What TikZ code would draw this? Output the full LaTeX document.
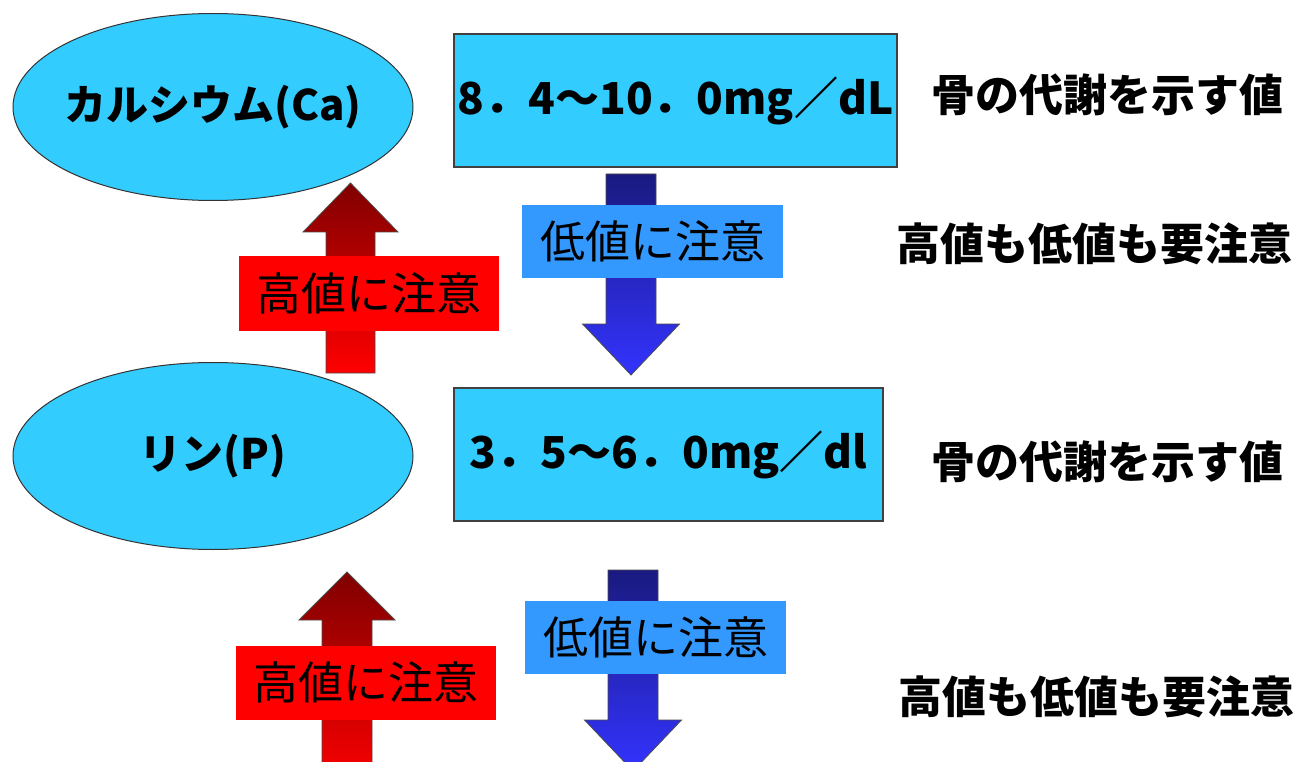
\documentclass[tikz,border=0pt]{standalone}
\usepackage{fontspec}
\newfontfamily\jp{Noto Sans CJK JP}
\usetikzlibrary{shapes.geometric,calc}
\definecolor{cyanfill}{RGB}{51,204,255}
\definecolor{lblblue}{RGB}{51,153,255}
\definecolor{navyblue}{RGB}{26,26,128}
\definecolor{brightblue}{RGB}{51,51,255}
\definecolor{darkred}{RGB}{128,0,0}
\definecolor{purered}{RGB}{255,0,0}
\begin{document}
\begin{tikzpicture}[x=1pt,y=-1pt,
  every node/.style={font=\jp\bfseries\fontsize{44}{52}\selectfont, text=black, inner sep=0},
  elem/.style={ellipse, draw=black!80, line width=1pt, fill=cyanfill,
    minimum width=400, minimum height=187, inner xsep=-60pt, inner ysep=0pt,
    font=\jp\bfseries\fontsize{42}{50}\selectfont},
  valbox/.style={rectangle, draw=black!75, line width=1.2pt, fill=cyanfill},
  lowlbl/.style={rectangle, fill=lblblue, minimum width=261, minimum height=73,
    font=\jp\fontsize{45}{52}\selectfont},
  highlbl/.style={rectangle, fill=purered, minimum width=260, minimum height=74,
    font=\jp\fontsize{45}{52}\selectfont},
  note/.style={rectangle},
  downarr/.style={draw=black!70, line width=0.8pt, top color=navyblue, bottom color=brightblue},
  uparr/.style={draw=black!70, line width=0.8pt, top color=darkred, bottom color=purered}]
\useasboundingbox (0,0) rectangle (1296,762);
\clip (0,0) rectangle (1296,762);
\fill[white] (0,0) rectangle (1296,762);

% main nodes
\node[elem] (ca) at (213,107) {カルシウム(Ca)};
\node[elem] (p) at (213,456) {リン(P)};
\node[valbox, minimum width=443, minimum height=133] (r1) at (675.5,100.5) {8．4～10．0mg／dL};
\node[valbox, minimum width=429, minimum height=133] (r2) at (668.5,454.5) {3．5～6．0mg／dl};

% side notes
\node[note] (n1) at (1107,95) {骨の代謝を示す値};
\node[note] (n2) at (1094,244) {高値も低値も要注意};
\node[note] (n3) at (1107,462) {骨の代謝を示す値};
\node[note] (n4) at (1096,697) {高値も低値も要注意};

% arrow anchor coordinates
\coordinate (d1top) at (631,174);
\coordinate (d1tip) at (631,375);
\coordinate (d2top) at (633,570);
\coordinate (d2tip) at (633,771);
\coordinate (u1tip) at (350.5,183);
\coordinate (u1bot) at (350.5,373);
\coordinate (u2tip) at (347,572);
\coordinate (u2bot) at (347,790);

% down arrows (low values)
\path[downarr] ($(d1top)+(-25,0)$) -- ($(d1top)+(25,0)$) -- ($(d1tip)+(25,-51)$)
  -- ($(d1tip)+(48.5,-51)$) -- (d1tip) -- ($(d1tip)+(-48.5,-51)$) -- ($(d1tip)+(-25,-51)$) -- cycle;
\path[downarr] ($(d2top)+(-25,0)$) -- ($(d2top)+(25,0)$) -- ($(d2tip)+(25,-51)$)
  -- ($(d2tip)+(48.5,-51)$) -- (d2tip) -- ($(d2tip)+(-48.5,-51)$) -- ($(d2tip)+(-25,-51)$) -- cycle;

% up arrows (high values)
\path[uparr] ($(u1bot)+(-24.5,0)$) -- ($(u1bot)+(24.5,0)$) -- ($(u1tip)+(24.5,49)$)
  -- ($(u1tip)+(47.5,49)$) -- (u1tip) -- ($(u1tip)+(-47.5,49)$) -- ($(u1tip)+(-24.5,49)$) -- cycle;
\path[uparr] ($(u2bot)+(-25,0)$) -- ($(u2bot)+(25,0)$) -- ($(u2tip)+(25,48)$)
  -- ($(u2tip)+(48,48)$) -- (u2tip) -- ($(u2tip)+(-48,48)$) -- ($(u2tip)+(-25,48)$) -- cycle;

% labels on arrows
\node[lowlbl] (l1) at (652.5,241.5) {低値に注意};
\node[highlbl] (h1) at (369,293.5) {高値に注意};
\node[lowlbl] (l2) at (655.5,637.5) {低値に注意};
\node[highlbl] (h2) at (366,682.5) {高値に注意};
\end{tikzpicture}
\end{document}
